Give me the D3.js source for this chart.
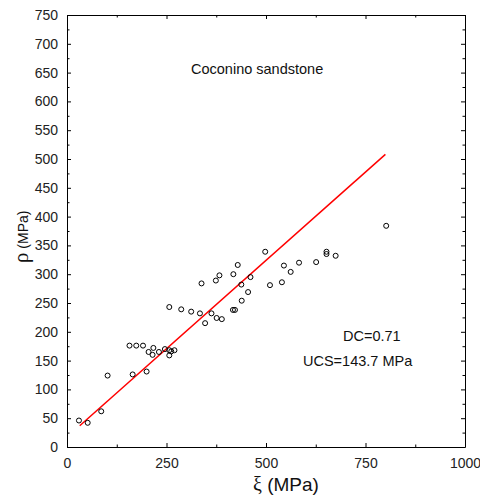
<!DOCTYPE html>
<html>
<head>
<meta charset="utf-8">
<script src="https://cdn.jsdelivr.net/npm/d3@7"></script>
<style>
  html, body { margin: 0; padding: 0; background: #fff; }
  svg { display: block; }
</style>
</head>
<body>
<svg id="chart" width="480" height="501"></svg>
<script>
// ---- data ----
const xiValues  = [30, 52, 86, 102, 157, 165, 174, 191, 200, 205, 215, 217, 231, 246, 257, 257, 257, 262, 270,
                   287, 312, 334, 338, 347, 363, 374, 376, 383, 389, 418, 417, 422, 429, 438, 439, 455, 461,
                   498, 510, 540, 545, 562, 583, 626, 652, 652, 675, 802];
const rhoValues = [46, 42, 62, 124, 176, 126, 176, 176, 131, 165, 160, 172, 165, 170, 243, 168, 159, 166, 168,
                   239, 235, 232, 284, 215, 232, 289, 224, 298, 222, 300, 238, 238, 316, 282, 254, 269, 295,
                   339, 281, 286, 315, 304, 320, 321, 339, 335, 332, 384];
const fitX = [32, 800];
const fitY = [37, 508];
const xTicks = [0, 250, 500, 750, 1000];
const yTicks = [0, 50, 100, 150, 200, 250, 300, 350, 400, 450, 500, 550, 600, 650, 700, 750];
const xMinor = [125, 375, 625, 875];
const yMinor = [25, 75, 125, 175, 225, 275, 325, 375, 425, 475, 525, 575, 625, 675, 725];
const title = "Coconino sandstone";
const notes = ["DC=0.71", "UCS=143.7 MPa"];

// ---- layout ----
const L = 67, R = 465, T = 15, B = 447;
const svg = d3.select("#chart");
const x = d3.scaleLinear().domain([0, 1000]).range([L, R]);
const y = d3.scaleLinear().domain([0, 750]).range([B, T]);
const font = "Arial, 'Liberation Sans', Helvetica, sans-serif";

function styleAxis(g) {
  g.select(".domain").attr("stroke", "#000").attr("stroke-width", 1);
  g.selectAll(".tick line").attr("stroke", "#000").attr("stroke-width", 1);
  g.selectAll("text").attr("font-family", font).attr("font-size", 14).attr("fill", "#222");
}

// major axes (inward ticks)
const gBottom = svg.append("g").attr("transform", `translate(0,${B})`)
  .call(d3.axisBottom(x).tickValues(xTicks).tickSizeInner(-4).tickSizeOuter(0).tickPadding(11).tickFormat(d3.format("d")));
styleAxis(gBottom);
const gLeft = svg.append("g").attr("transform", `translate(${L},0)`)
  .call(d3.axisLeft(y).tickValues(yTicks).tickSizeInner(-4).tickSizeOuter(0).tickPadding(9).tickFormat(d3.format("d")));
styleAxis(gLeft);
const gTop = svg.append("g").attr("transform", `translate(0,${T})`)
  .call(d3.axisTop(x).tickValues(xTicks).tickSizeInner(-4).tickSizeOuter(0).tickFormat(""));
styleAxis(gTop);
const gRight = svg.append("g").attr("transform", `translate(${R},0)`)
  .call(d3.axisRight(y).tickValues(yTicks).tickSizeInner(-4).tickSizeOuter(0).tickFormat(""));
styleAxis(gRight);

// minor ticks
[[d3.axisBottom(x), B, xMinor, true], [d3.axisTop(x), T, xMinor, true],
 [d3.axisLeft(y), L, yMinor, false], [d3.axisRight(y), R, yMinor, false]].forEach(([ax, pos, vals, horiz]) => {
  const g = svg.append("g").attr("transform", horiz ? `translate(0,${pos})` : `translate(${pos},0)`)
    .call(ax.tickValues(vals).tickSizeInner(-2.5).tickSizeOuter(0).tickFormat(""));
  g.select(".domain").remove();
  g.selectAll(".tick line").attr("stroke", "#000").attr("stroke-width", 1);
});

// fit line
svg.append("path")
  .datum(fitX.map((v, i) => [v, fitY[i]]))
  .attr("d", d3.line().x(d => x(d[0])).y(d => y(d[1])))
  .attr("fill", "none").attr("stroke", "#ff0000").attr("stroke-width", 1.5);

// points
svg.append("g").selectAll("circle")
  .data(xiValues.map((v, i) => [v, rhoValues[i]]))
  .join("circle")
  .attr("cx", d => x(d[0])).attr("cy", d => y(d[1])).attr("r", 2.5)
  .attr("fill", "none").attr("stroke", "#000").attr("stroke-width", 1);

// annotations
svg.append("text").attr("x", 191).attr("y", 74).text(title)
  .attr("font-family", font).attr("font-size", 14.5).attr("fill", "#111");
svg.append("text").attr("x", 343).attr("y", 341).text(notes[0])
  .attr("font-family", font).attr("font-size", 14.5).attr("fill", "#111");
svg.append("text").attr("x", 303).attr("y", 366).text(notes[1])
  .attr("font-family", font).attr("font-size", 14.5).attr("fill", "#111");

// axis titles
const xt = svg.append("text").attr("x", 253).attr("y", 491).attr("fill", "#111");
xt.append("tspan").text("ξ").attr("font-family", "'Liberation Serif', 'Times New Roman', serif").attr("font-size", 20);
xt.append("tspan").text(" (MPa)").attr("font-family", font).attr("font-size", 19);

const yt = svg.append("text").attr("transform", "translate(28,263) rotate(-90)").attr("fill", "#111");
yt.append("tspan").text("ρ").attr("font-family", "'Liberation Serif', 'Times New Roman', serif").attr("font-size", 21);
yt.append("tspan").text(" (MPa)").attr("font-family", font).attr("font-size", 14);
</script>
</body>
</html>
